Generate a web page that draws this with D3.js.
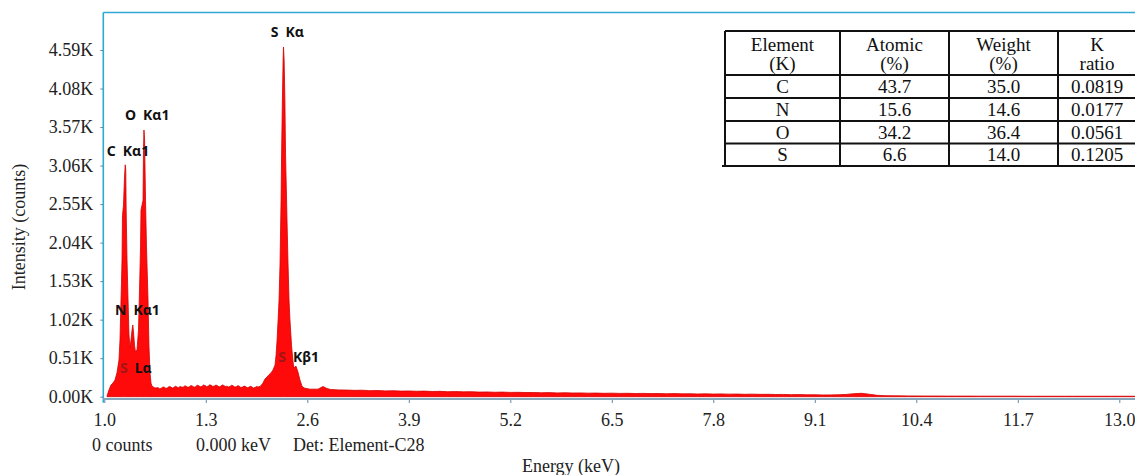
<!DOCTYPE html>
<meta charset="utf-8">
<style>
body { margin: 0; background: #fff; }
.tick text { font-family: "Liberation Serif", "Times New Roman", serif; font-size: 18px; fill: #222; }
.lbl { font-family: "Liberation Serif", "Times New Roman", serif; font-size: 18px; fill: #222; }
.peak { font-family: "Noto Sans", "DejaVu Sans", sans-serif; font-size: 14px; font-weight: 700; fill: #111; }
.tbl { font-family: "Liberation Serif", "Times New Roman", serif; font-size: 19px; fill: #111; text-anchor: middle; }
</style>
<body>
<svg id="chart" width="1135" height="475"></svg>
</body>
<script src="https://d3js.org/d3.v7.min.js"></script>
<script>

// spectrum (energy in keV, intensity in counts)
var energy = [
  0.035, 0.060, 0.086, 0.111, 0.137, 0.163, 0.188, 0.201, 0.214, 0.220, 0.227, 0.233, 0.246, 0.259, 0.268,
  0.275, 0.280, 0.291, 0.304, 0.316, 0.329, 0.342, 0.355, 0.365, 0.374, 0.387, 0.400, 0.419, 0.438, 0.451,
  0.464, 0.470, 0.496, 0.502, 0.508, 0.516, 0.528, 0.540, 0.560, 0.572, 0.585, 0.598, 0.611, 0.649,
  0.69, 0.71, 0.73, 0.75, 0.77, 0.79, 0.81, 0.83, 0.85, 0.87, 0.89, 0.91, 0.93, 0.95, 0.97, 0.99, 1.01,
  1.03, 1.05, 1.07, 1.09, 1.11, 1.13, 1.15, 1.17, 1.19, 1.21, 1.23, 1.25, 1.27, 1.29, 1.31, 1.33,
  1.35, 1.37, 1.39, 1.41, 1.43, 1.45, 1.47, 1.49, 1.51, 1.53, 1.55, 1.57, 1.59, 1.61, 1.63, 1.65,
  1.67, 1.69, 1.71, 1.73, 1.75, 1.77, 1.79, 1.81, 1.83, 1.85, 1.87, 1.89, 1.91, 1.93, 1.95, 1.97, 2.00,
  2.032, 2.058, 2.084, 2.109, 2.135, 2.161, 2.187, 2.200, 2.213, 2.226, 2.238, 2.251, 2.264, 2.271, 2.281,
  2.290, 2.295, 2.303, 2.313, 2.321, 2.340, 2.353, 2.366, 2.378, 2.398, 2.417, 2.430, 2.455, 2.481, 2.506,
  2.532, 2.558, 2.634, 2.737, 2.801, 2.852,
  2.9, 3.0, 3.1, 3.2, 3.3, 3.4, 3.5, 3.6, 3.7, 3.8, 3.9, 4.0, 4.1, 4.2, 4.3, 4.4, 4.5, 4.6, 4.7, 4.8, 4.9,
  5.0, 5.1, 5.2, 5.3, 5.4, 5.5, 5.6, 5.7, 5.8, 5.9, 6.0, 6.1, 6.2, 6.3, 6.4, 6.5, 6.6, 6.7, 6.8, 6.9,
  7.0, 7.1, 7.2, 7.3, 7.4, 7.5, 7.6, 7.7, 7.8, 7.9, 8.0, 8.1, 8.2, 8.3, 8.4, 8.5, 8.6, 8.7, 8.8, 8.9,
  9.0, 9.1, 9.2, 9.3, 9.4, 9.5, 9.6, 9.7, 9.8, 9.9, 10.0, 10.1, 10.2, 10.3, 10.4, 10.5, 10.6, 10.7, 10.8, 10.9,
  11.0, 11.1, 11.2, 11.3, 11.4, 11.5, 11.6, 11.7, 11.8, 11.9, 12.0, 12.1, 12.2, 12.3, 12.4, 12.5, 12.6, 12.7,
  12.8, 12.9, 13.0, 13.2
];
var counts = [
  10, 90, 155, 180, 220, 320, 485, 750, 1280, 1500, 1810, 2400, 2540, 2910, 3070,
  3000, 2470, 1810, 1280, 820, 645, 750, 880, 950, 855, 680, 590, 620, 880, 1410,
  1980, 2470, 2600, 3260, 3530, 3400, 2600, 2000, 1280, 680, 325, 180, 140, 115,
  120, 104, 112, 128, 125, 109, 118, 134, 130, 114, 122, 138, 128, 119, 135, 127, 126,
  143, 138, 124, 131, 147, 140, 126, 133, 152, 145, 131, 136, 155, 148, 133, 139,
  157, 150, 136, 141, 154, 146, 130, 137, 156, 149, 134, 140, 129, 135, 151, 144,
  128, 132, 146, 138, 122, 127, 141, 134, 118, 125, 137, 130, 115, 122, 136, 128, 140,
  180, 235, 260, 290, 315, 355, 420, 550, 750, 1015, 1280, 1770, 2600, 3225, 3930,
  4460, 4630, 4460, 3930, 3225, 2340, 1770, 1280, 1015, 680, 460, 380, 405, 325, 220,
  140, 115, 100, 100, 135, 108,
  95, 90, 88, 84, 86, 80, 82, 77, 79, 74, 76, 72, 74, 69, 71, 66, 68, 64, 66, 61, 63,
  59, 61, 57, 58, 55, 56, 52, 54, 50, 52, 49, 50, 47, 48, 45, 47, 44, 45, 42, 44,
  41, 42, 39, 41, 38, 39, 36, 38, 35, 37, 34, 35, 32, 34, 31, 32, 29, 30, 27, 28,
  25, 26, 23, 24, 26, 30, 40, 45, 32, 18, 14, 12, 11, 10, 10, 9, 9, 9, 8, 8,
  8, 8, 7, 7, 7, 7, 7, 7, 6, 6, 6, 6, 6, 6, 6, 6, 6, 6,
  6, 6, 6, 6
];

// axes
var xTickValues = [0, 1.3, 2.6, 3.9, 5.2, 6.5, 7.8, 9.1, 10.4, 11.7, 13.0];
var xTickLabels = ["1.0", "1.3", "2.6", "3.9", "5.2", "6.5", "7.8", "9.1", "10.4", "11.7", "13.0"];
var yTickValues = [0, 510, 1020, 1530, 2040, 2550, 3060, 3570, 4080, 4590];
var yTickLabels = ["0.00K", "0.51K", "1.02K", "1.53K", "2.04K", "2.55K", "3.06K", "3.57K", "4.08K", "4.59K"];

// peak labels (element, line, where it sits in keV / counts)
var peakElement = ["C", "O", "N", "S", "S", "S"];
var peakLine = ["K\u03b11", "K\u03b11", "K\u03b11", "K\u03b1", "L\u03b1", "K\u03b21"];
var peakEnergy = [0.031, 0.265, 0.137, 2.131, 0.201, 2.228];
var peakCounts = [3187, 3663, 1082, 4759, 318, 463];

// quantification table
var tableHeader = [["Element", "(K)"], ["Atomic", "(%)"], ["Weight", "(%)"], ["K", "ratio"]];
var elements = ["C", "N", "O", "S"];
var atomicPct = [43.7, 15.6, 34.2, 6.6];
var weightPct = [35.0, 14.6, 36.4, 14.0];
var kRatio = [0.0819, 0.0177, 0.0561, 0.1205];

var W = 1135, H = 475;
var svg = d3.select("#chart");

var x = d3.scaleLinear().domain([0, 13]).range([104.3, 1119.3]);
var y = d3.scaleLinear().domain([0, 4590]).range([396.7, 50]);

var data = energy.map(function(e, i) { return {e: e, c: counts[i]}; });

// spectrum
var area = d3.area()
    .x(function(d) { return x(d.e); })
    .y0(y(0))
    .y1(function(d) { return y(d.c); });

svg.append("path")
    .datum(data)
    .attr("d", area)
    .attr("fill", "#ff0a0a")
    .attr("stroke", "#d40000")
    .attr("stroke-width", 0.8)
    .attr("stroke-linejoin", "round");

// frame: left and top in cyan
var left = x(0) - 1;
svg.append("line")
    .attr("x1", left).attr("x2", left)
    .attr("y1", 12.5).attr("y2", y(0) + 6)
    .attr("stroke", "#2fa9d2").attr("stroke-width", 1.6);
svg.append("line")
    .attr("x1", left).attr("x2", W)
    .attr("y1", 12.5).attr("y2", 12.5)
    .attr("stroke", "#2fa9d2").attr("stroke-width", 1.6);

// x axis
var xAxis = svg.append("g")
    .attr("transform", "translate(0," + (y(0) + 2.3) + ")")
    .call(d3.axisBottom(x)
        .tickValues(xTickValues)
        .tickFormat(function(d, i) { return xTickLabels[i]; })
        .tickSize(4)
        .tickPadding(10));
xAxis.select(".domain").remove();
xAxis.selectAll(".tick line").attr("stroke", "#5f8aa3");
xAxis.append("line")
    .attr("x1", left).attr("x2", W)
    .attr("stroke", "#86a7bb").attr("stroke-width", 2);

// y axis
var yAxis = svg.append("g")
    .attr("transform", "translate(" + left + ",0)")
    .call(d3.axisLeft(y)
        .tickValues(yTickValues)
        .tickFormat(function(d, i) { return yTickLabels[i]; })
        .tickSize(3)
        .tickPadding(7));
yAxis.select(".domain").remove();
yAxis.selectAll(".tick line").attr("stroke", "#5f8aa3");

// axis titles and status line
svg.append("text").attr("class", "lbl")
    .attr("transform", "translate(25,227) rotate(-90)")
    .attr("text-anchor", "middle")
    .text("Intensity (counts)");
svg.append("text").attr("class", "lbl")
    .attr("x", 571).attr("y", 472)
    .attr("text-anchor", "middle")
    .text("Energy (keV)");
svg.append("text").attr("class", "lbl").attr("x", 92).attr("y", 451).text("0 counts");
svg.append("text").attr("class", "lbl").attr("x", 196).attr("y", 451).text("0.000 keV");
svg.append("text").attr("class", "lbl").attr("x", 293).attr("y", 451).text("Det: Element-C28");

// peak labels
var pk = svg.selectAll(".peak")
    .data(peakElement)
  .enter().append("text")
    .attr("class", "peak")
    .attr("x", function(d, i) { return x(peakEnergy[i]); })
    .attr("y", function(d, i) { return y(peakCounts[i]); });
pk.append("tspan")
    .style("fill", function(d, i) { return (i >= 4) ? "#9e1616" : "#111"; })
    .text(function(d) { return d; });
pk.append("tspan")
    .attr("dx", 7)
    .text(function(d, i) { return peakLine[i]; });

// table
var colX = [725, 840, 949, 1058, 1137];
var rowY = [31, 75, 98, 121, 143.5, 166];
var tbl = svg.append("g");
tbl.append("rect")
    .attr("x", colX[0]).attr("y", rowY[0])
    .attr("width", colX[4] - colX[0]).attr("height", rowY[5] - rowY[0])
    .attr("fill", "#fff");

tableHeader.forEach(function(h, c) {
  var cx = (colX[c] + colX[c + 1]) / 2;
  if (c === 3) cx = 1097;
  tbl.append("text").attr("class", "tbl").attr("x", cx).attr("y", 50.5).text(h[0]);
  tbl.append("text").attr("class", "tbl").attr("x", cx).attr("y", 69.5).text(h[1]);
});

elements.forEach(function(el, r) {
  var cells = [el, atomicPct[r].toFixed(1), weightPct[r].toFixed(1), kRatio[r].toFixed(4)];
  var base = rowY[r + 1] + 17.5;
  cells.forEach(function(t, c) {
    var cx = (colX[c] + colX[c + 1]) / 2;
    if (c === 3) cx = 1097;
    tbl.append("text").attr("class", "tbl").attr("x", cx).attr("y", base).text(t);
  });
});

rowY.forEach(function(ry, i) {
  tbl.append("line")
      .attr("x1", i === 5 ? colX[0] - 3 : colX[0]).attr("x2", colX[4])
      .attr("y1", ry).attr("y2", ry)
      .attr("stroke", "#111").attr("stroke-width", 2);
});
colX.slice(0, 4).forEach(function(cx) {
  tbl.append("line")
      .attr("x1", cx).attr("x2", cx)
      .attr("y1", rowY[0]).attr("y2", rowY[5])
      .attr("stroke", "#111").attr("stroke-width", 2);
});

</script>
